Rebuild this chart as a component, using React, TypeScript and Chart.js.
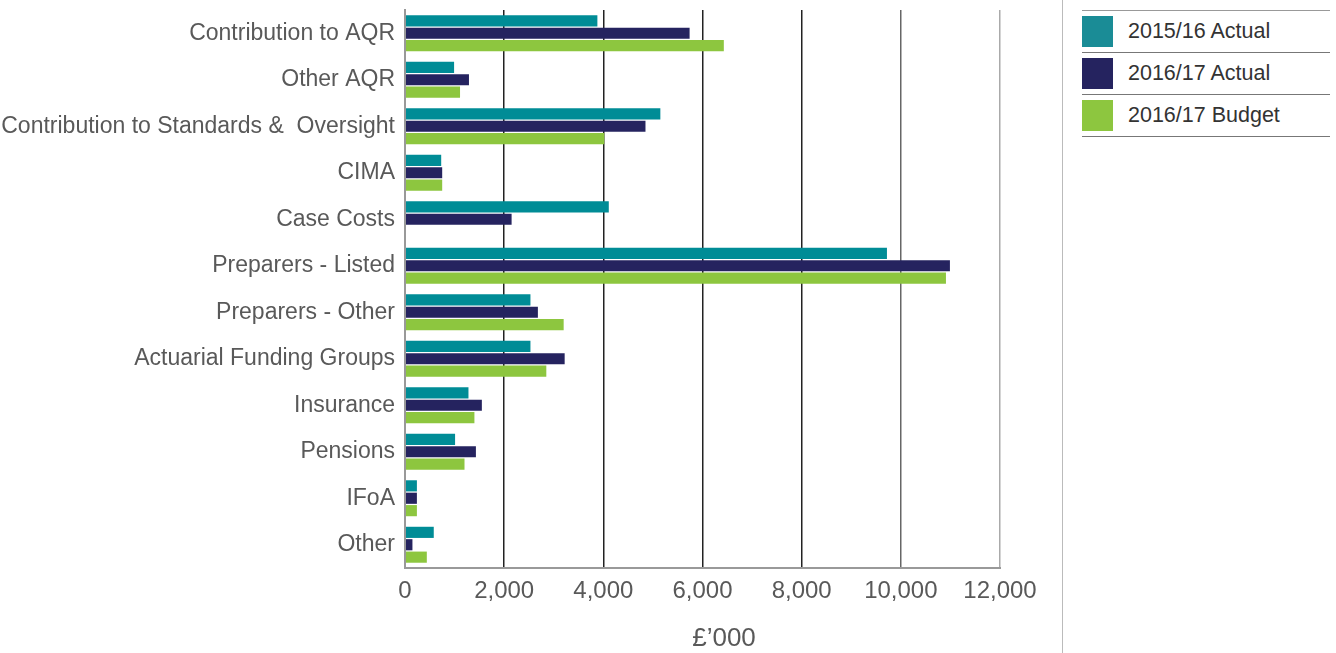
import React, { useEffect, useRef } from "react";
import { Chart, registerables } from "chart.js";

Chart.register(...registerables);

const categories = [
  "Contribution to AQR",
  "Other AQR",
  "Contribution to Standards &  Oversight",
  "CIMA",
  "Case Costs",
  "Preparers - Listed",
  "Preparers - Other",
  "Actuarial Funding Groups",
  "Insurance",
  "Pensions",
  "IFoA",
  "Other",
];

const actual1516 = [3880, 990, 5150, 730, 4110, 9720, 2530, 2530, 1280, 1010, 240, 580];
const actual1617 = [5740, 1290, 4850, 750, 2150, 10990, 2680, 3220, 1550, 1430, 240, 150];
const budget1617 = [6430, 1110, 4020, 750, 0, 10910, 3200, 2850, 1400, 1200, 240, 440];

const seriesLabels = ["2015/16 Actual", "2016/17 Actual", "2016/17 Budget"];
const barColors = ["#008c96", "#25235f", "#8dc63f"];
const legendColors = ["#1a8c96", "#25235f", "#8dc63f"];
const xTicks = [0, 2000, 4000, 6000, 8000, 10000, 12000];
const axisTitle = "£’000";

const FONT = "'Liberation Sans', Arial, sans-serif";

export default function App() {
  const ref = useRef<HTMLCanvasElement | null>(null);

  useEffect(() => {
    if (!ref.current) return;
    const chart = new Chart(ref.current, {
      type: "bar",
      data: {
        labels: categories,
        datasets: [actual1516, actual1617, budget1617].map((d, i) => ({
          label: seriesLabels[i],
          data: d,
          backgroundColor: barColors[i],
          borderWidth: 0,
          categoryPercentage: 0.8,
          barPercentage: 0.9,
        })),
      },
      options: {
        indexAxis: "y",
        animation: false,
        responsive: false,
        maintainAspectRatio: false,
        layout: { padding: { top: 10, right: 62, left: 0, bottom: 0 } },
        plugins: { legend: { display: false }, tooltip: { enabled: false } },
        scales: {
          x: {
            min: 0,
            max: 12000,
            afterBuildTicks: (scale: any) => {
              scale.ticks = xTicks.map((v) => ({ value: v }));
            },
            afterFit: (scale: any) => {
              scale.height = 85;
              scale.paddingLeft = 0;
              scale.paddingRight = 0;
            },
            grid: {
              drawTicks: false,
              color: (ctx: any) => {
                const v = ctx.tick ? ctx.tick.value : 0;
                if (v === 0) return "#999999";
                if (v === 12000) return "#aaaaaa";
                if (v === 10000) return "#666666";
                return "#222222";
              },
              lineWidth: (ctx: any) => {
                const v = ctx.tick ? ctx.tick.value : 0;
                return v === 0 ? 2 : 1.5;
              },
            },
            border: { display: true, color: "#999999", width: 2 },
            ticks: {
              padding: 9,
              color: "#595959",
              font: { family: FONT, size: 24 },
              callback: (v: any) => Number(v).toLocaleString("en-GB"),
            },
            title: { display: false },
          },
          y: {
            afterFit: (scale: any) => {
              scale.width = 405;
              scale.paddingTop = 0;
              scale.paddingBottom = 0;
            },
            grid: { display: false, drawTicks: false },
            border: { display: true, color: "#999999", width: 2 },
            ticks: {
              padding: 10,
              color: "#595959",
              font: { family: FONT, size: 23 },
              autoSkip: false,
            },
          },
        },
      },
    });
    return () => chart.destroy();
  }, []);

  return (
    <div
      style={{
        position: "absolute",
        left: 0,
        top: 0,
        width: 1336,
        height: 653,
        background: "#fff",
        overflow: "hidden",
      }}
    >
      <canvas
        ref={ref}
        width={1062}
        height={653}
        style={{ position: "absolute", left: 0, top: 0, width: 1062, height: 653 }}
      />
      <div
        style={{
          position: "absolute",
          left: 624,
          top: 622,
          width: 200,
          textAlign: "center",
          fontFamily: FONT,
          fontSize: 26,
          lineHeight: "30px",
          color: "#595959",
        }}
      >
        {axisTitle}
      </div>
      <div
        style={{
          position: "absolute",
          left: 1062,
          top: 0,
          width: 1,
          height: 653,
          background: "#bbbbbb",
        }}
      />
      <div style={{ position: "absolute", left: 1082, top: 10, width: 248 }}>
        <div style={{ height: 1, background: "#999" }} />
        {seriesLabels.map((s, i) => (
          <div key={s}>
            <div
              style={{
                height: 41,
                display: "flex",
                alignItems: "center",
                fontFamily: FONT,
                fontSize: 21.5,
                color: "#333",
              }}
            >
              <div style={{ width: 31, height: 31, background: legendColors[i], marginRight: 15 }} />
              <span>{s}</span>
            </div>
            <div style={{ height: 1, background: "#777" }} />
          </div>
        ))}
      </div>
    </div>
  );
}
